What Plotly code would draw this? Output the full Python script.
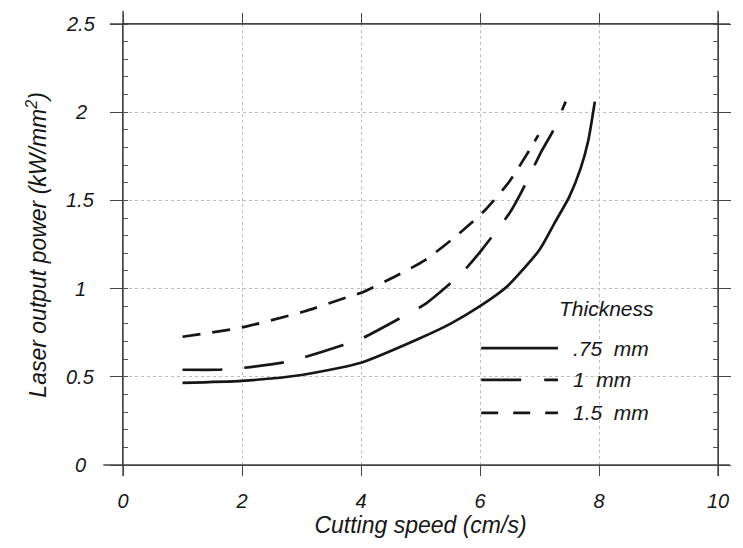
import plotly.graph_objects as go

# Data
x_075 = [1.0, 2.0, 3.0, 4.0, 5.0, 5.5, 6.0, 6.45, 7.0, 7.25, 7.5, 7.69, 7.82, 7.93]
y_075 = [0.466, 0.477, 0.51, 0.58, 0.72, 0.80, 0.90, 1.01, 1.22, 1.37, 1.52, 1.68, 1.84, 2.06]

x_100 = [1.0, 1.6, 2.0, 2.68, 3.04, 3.7, 4.03, 4.7, 5.07, 5.7, 6.03, 6.5, 6.7, 7.02, 7.22, 7.44]
y_100 = [0.54, 0.54, 0.55, 0.58, 0.61, 0.68, 0.72, 0.84, 0.91, 1.09, 1.22, 1.43, 1.55, 1.77, 1.89, 2.06]

x_150 = [1.0, 2.0, 3.04, 3.8, 4.03, 4.58, 5.07, 5.57, 6.07, 6.5, 6.84, 6.98]
y_150 = [0.727, 0.78, 0.87, 0.955, 0.98, 1.07, 1.16, 1.29, 1.44, 1.61, 1.79, 1.87]

series_names = [".75 mm", "1 mm", "1.5 mm"]
x_ticks = [0, 2, 4, 6, 8, 10]
x_tick_text = ["0", "2", "4", "6", "8", "10"]
y_ticks = [0, 0.5, 1, 1.5, 2, 2.5]
y_tick_text = ["0", "0.5", "1", "1.5", "2", "2.5"]

FONT = "Liberation Sans, Arial, Helvetica, sans-serif"
INK = "#161616"
dashes = ["solid", "40px,22px", "18px,12px"]
legend_dashes = ["solid", "40px,23px", "17px,15px"]

fig = go.Figure()
for xs, ys, name, d in zip([x_075, x_100, x_150], [y_075, y_100, y_150], series_names, dashes):
    fig.add_trace(go.Scatter(x=xs, y=ys, mode="lines", name=name,
                             line=dict(color=INK, width=2.7, dash=d, shape="spline", smoothing=0.6),
                             showlegend=False))

axis_common = dict(showline=True, linecolor="#444", linewidth=1.4, mirror="ticks",
                   showgrid=True, gridcolor="#bdbdbd", griddash="dot", gridwidth=1,
                   zeroline=False, tickcolor="#444", tickwidth=1.4)

fig.update_xaxes(range=[0, 10], tickvals=x_ticks, ticktext=x_tick_text, ticks="outside", ticklen=10,
                 ticklabelstandoff=8,
                 tickfont=dict(family=FONT, size=20, color=INK, style="italic"),
                 title=dict(text="Cutting speed (cm/s)", standoff=0,
                            font=dict(family=FONT, size=23, color=INK, style="italic")),
                 **axis_common)
fig.update_yaxes(range=[0, 2.5], tickvals=y_ticks, showticklabels=False, ticks="outside", ticklen=12,
                 minor=dict(ticks="inside", dtick=0.1, ticklen=5, tickcolor="#555", showgrid=False),
                 **axis_common)

annotations = []
# y tick labels, centred as in the reference
for v, t in zip(y_ticks, y_tick_text):
    annotations.append(dict(text=t, xref="paper", yref="y", x=-0.071, y=v, showarrow=False,
                            xanchor="center", yanchor="middle",
                            font=dict(family=FONT, size=20, color=INK, style="italic")))
# y axis title
annotations.append(dict(text="Laser output power (kW/mm<sup>2</sup>)", xref="paper", yref="paper",
                        x=-0.146, y=0.5, textangle=-90, showarrow=False,
                        xanchor="center", yanchor="middle",
                        font=dict(family=FONT, size=23, color=INK, style="italic")))

# frame extensions beyond the plot area
shapes = [
    dict(type="line", xref="paper", yref="paper", x0=-0.022, x1=1.02, y0=1, y1=1,
         line=dict(color="#444", width=1.4)),
    dict(type="line", xref="paper", yref="paper", x0=-0.033, x1=1.02, y0=0, y1=0,
         line=dict(color="#444", width=1.4)),
    dict(type="line", xref="paper", yref="paper", x0=0, x1=0, y0=-0.025, y1=1.03,
         line=dict(color="#444", width=1.4)),
    dict(type="line", xref="paper", yref="paper", x0=1, x1=1, y0=-0.025, y1=1.03,
         line=dict(color="#444", width=1.4)),
]

# custom legend
leg_y = [0.265, 0.193, 0.118]
annotations.append(dict(text="Thickness", xref="paper", yref="paper", x=0.813, y=0.354,
                        showarrow=False, xanchor="center", yanchor="middle",
                        font=dict(family=FONT, size=21, color=INK, style="italic")))
for name, yy, d in zip(series_names, leg_y, legend_dashes):
    shapes.append(dict(type="line", xref="paper", yref="paper", x0=0.602, x1=0.731, y0=yy, y1=yy,
                       line=dict(color=INK, width=2.7, dash=d)))
    annotations.append(dict(text=name.replace(" ", "\u00a0\u00a0"), xref="paper", yref="paper",
                            x=0.753, y=yy, showarrow=False, xanchor="left", yanchor="middle",
                            font=dict(family=FONT, size=21, color=INK, style="italic")))

fig.update_layout(width=743, height=548, margin=dict(l=123, r=15, t=24, b=83),
                  paper_bgcolor="white", plot_bgcolor="white",
                  shapes=shapes, annotations=annotations, showlegend=False)

fig.write_html("out.html")
